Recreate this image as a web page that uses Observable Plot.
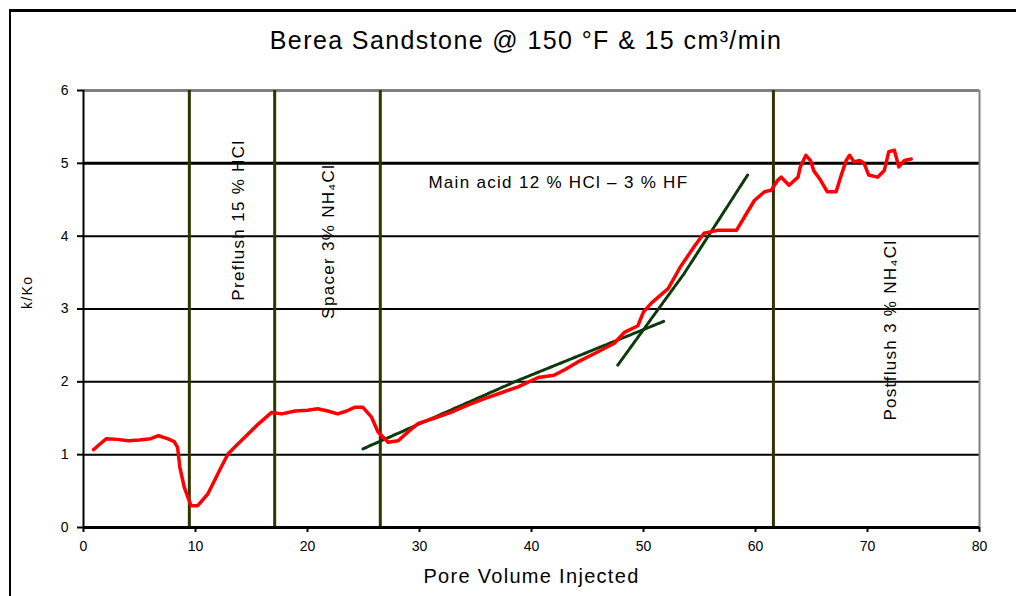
<!DOCTYPE html>
<html>
<head>
<meta charset="utf-8">
<script src="https://cdn.jsdelivr.net/npm/d3@7"></script>
<script src="https://cdn.jsdelivr.net/npm/@observablehq/plot@0.6"></script>
<style>
  html, body { margin: 0; padding: 0; background: #fff; }
  #wrap { position: relative; width: 1016px; height: 596px; overflow: hidden; font-family: "Liberation Sans Narrow", "Liberation Sans", Arial, sans-serif; }
  #frame { position: absolute; left: 9px; top: 9px; width: 1100px; height: 700px; border-left: 2px solid #000; border-top: 3px solid #000; }
  #title { position: absolute; left: 0; top: 0; width: 980px; padding-left: 36px; height: 70px; line-height: 80px; text-align: center; font-size: 25px; color: #000; letter-spacing: 1.4px; }
  #chart { position: absolute; left: 0; top: 70px; }
</style>
</head>
<body>
<div id="wrap">
  <div id="frame"></div>
  <div id="title">Berea Sandstone @ 150 °F &amp; 15 cm³/min</div>
  <div id="chart"></div>
</div>
<script>
// Measured curve k/Ko vs pore volume injected
const redX = [0.9,1.5,2.05,3,4,5,6,6.7,7.5,8.1,
  8.4,8.6,9.0,9.6,10.2,11.1,12.3,12.9,13.6,14.4,
  15.6,16.8,17.7,18.9,20.0,20.9,21.8,22.7,23.5,24.2,
  24.95,25.7,26.3,27.2,28.1,29.1,29.9,31.3,32.8,34.3,
  35.8,37.3,38.8,40.6,42.0,43.0,44.1,45.9,47.4,48.3,
  49.5,50.0,50.7,52.2,53.3,54.5,55.4,56.6,58.3,59.0,
  59.9,60.8,61.4,62.0,62.3,63.0,63.8,64.0,64.5,64.9,
  65.2,65.8,66.4,67.2,67.6,68.1,68.4,68.8,69.3,69.7,
  70.1,70.9,71.5,71.9,72.4,72.8,73.3,73.9];
const redY = [1.07,1.15,1.22,1.21,1.19,1.2,1.22,1.26,1.22,1.18,
  1.10,0.83,0.55,0.30,0.30,0.46,0.83,1.01,1.12,1.24,
  1.42,1.58,1.56,1.60,1.61,1.63,1.60,1.56,1.60,1.65,
  1.65,1.52,1.31,1.17,1.19,1.33,1.43,1.50,1.58,1.68,
  1.77,1.85,1.93,2.06,2.09,2.17,2.27,2.41,2.53,2.68,
  2.77,2.96,3.08,3.28,3.58,3.85,4.04,4.08,4.08,4.26,
  4.49,4.61,4.63,4.77,4.81,4.70,4.81,4.95,5.11,5.04,
  4.90,4.77,4.61,4.61,4.81,5.04,5.11,5.02,5.04,5.00,
  4.84,4.81,4.90,5.16,5.18,4.95,5.04,5.06];

// Trend lines (dark green)
const trend1X = [24.95, 38.8, 51.8];
const trend1Y = [1.08, 2.02, 2.83];
const trend2X = [47.7, 53.6, 59.3];
const trend2Y = [2.23, 3.48, 4.84];

// Stage boundaries
const stageX = [9.45, 17.07, 26.5, 61.6];

// Ticks
const xTicks = [0,10,20,30,40,50,60,70,80];
const yTicks = [0,1,2,3,4,5,6];
const gridY = [1,2,3,4,5];

// Annotations
const annoText = ["Preflush 15 % HCl", "Spacer 3% NH₄Cl", "Main acid 12 % HCl – 3 % HF", "Postflush 3 % NH₄Cl"];
const annoX = [13.8, 21.9, 42.4, 72.1];
const annoY = [4.22, 3.93, 4.73, 2.71];
const annoRotate = [-90, -90, 0, -90];

const red = redX.map((x, i) => ({x, y: redY[i]}));
const t1 = trend1X.map((x, i) => ({x, y: trend1Y[i]}));
const t2 = trend2X.map((x, i) => ({x, y: trend2Y[i]}));
const annos = annoText.map((t, i) => ({t, x: annoX[i], y: annoY[i], r: annoRotate[i]}));

const green = "#0c3a0c";
const font = '"Liberation Sans Narrow", "Liberation Sans", Arial, sans-serif';

const chart = Plot.plot({
  width: 1016,
  height: 526,
  marginLeft: 83,
  marginRight: 37,
  marginTop: 20,
  marginBottom: 69,
  style: {fontFamily: font, background: "transparent", color: "#000"},
  x: {domain: [0, 80], label: null},
  y: {domain: [0, 6], label: null},
  marks: [
    Plot.ruleY(gridY, {stroke: "#000", strokeWidth: d => d === 5 ? 3 : 2}),
    Plot.ruleY([6], {stroke: "#808080", strokeWidth: 3}),
    Plot.ruleX([80], {stroke: "#808080", strokeWidth: 2}),
    Plot.ruleX(stageX, {stroke: "#333300", strokeWidth: 3}),
    Plot.line(t1, {x: "x", y: "y", stroke: green, strokeWidth: 3, strokeDasharray: "5,1.5"}),
    Plot.line(t2, {x: "x", y: "y", stroke: green, strokeWidth: 3, strokeDasharray: "5,1.5"}),
    Plot.line(red, {x: "x", y: "y", stroke: "#ff0000", strokeWidth: 3.5, curve: "linear"}),
    Plot.ruleX([0], {stroke: "#000", strokeWidth: 2}),
    Plot.ruleY([0], {stroke: "#000", strokeWidth: 3}),
    Plot.axisX({ticks: xTicks, tickSize: 5, tickPadding: 9, fontSize: 14, tickFormat: d => String(d), strokeWidth: 2}),
    Plot.axisY({ticks: yTicks, tickSize: 6, tickPadding: 9, fontSize: 14, tickFormat: d => String(d), strokeWidth: 2}),
    Plot.text(annos, {x: "x", y: "y", text: "t", rotate: "r", fontSize: 17, fill: "#000"}),
    Plot.text(["Pore Volume Injected"], {frameAnchor: "bottom", dy: 55, fontSize: 20, fill: "#000"}),
    Plot.text(["k/Ko"], {frameAnchor: "left", dx: -56, rotate: -90, fontSize: 14, fill: "#000"})
  ]
});
// widen letter spacing of the annotation / label texts as in the reference
d3.select(chart).selectAll('g[aria-label="text"] text').style("letter-spacing", "1.3px");
document.getElementById("chart").appendChild(chart);
</script>
</body>
</html>
